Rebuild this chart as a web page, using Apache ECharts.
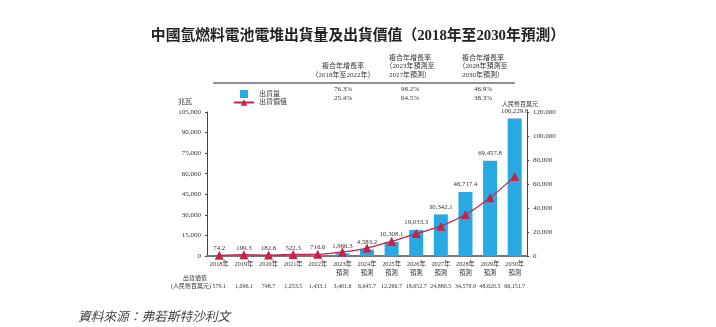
<!DOCTYPE html>
<html>
<head>
<meta charset="utf-8">
<script src="https://cdn.jsdelivr.net/npm/echarts@6/dist/echarts.min.js"></script>
<style>html,body{margin:0;padding:0;background:#fff;}#c{width:716px;height:327px;}</style>
</head>
<body>
<div id="c"></div>
<script>
const years = ['2018','2019','2020','2021','2022','2023','2024','2025','2026','2027','2028','2029','2030'];
const forecast = [false,false,false,false,false,true,true,true,true,true,true,true,true];
const shipmentMW = [74.2,199.3,182.6,522.3,716.6,1966.3,4583.2,10308.1,19033.3,30342.1,46717.4,69457.8,100229.8];
const shipmentValueRMBm = [579.1,1096.1,748.7,1253.5,1433.1,3401.6,6645.7,12266.7,18652.7,24880.5,34570.9,48620.5,66151.7];
const leftTicks = {min:0, max:105000, interval:15000};
const rightTicks = {min:0, max:120000, interval:20000};
const cagrHeaders = [['複合年增長率','（2018年至2022年）'],['複合年增長率','（2023年預測至','2027年預測）'],['複合年增長率','（2028年預測至','2030年預測）']];
const cagrShipment = ['76.3%','98.2%','46.9%'];
const cagrValue = ['25.4%','64.5%','38.3%'];
const seriesNames = ['出貨量','出貨價值'];

const SERIF = "'Liberation Serif','Noto Sans CJK TC',serif";
const fmt = v => v.toLocaleString('en-US',{minimumFractionDigits:1, maximumFractionDigits:1});
const fmt0 = v => v.toLocaleString('en-US');
const categories = years.map((y,i)=> forecast[i] ? y+'年\n預測' : y+'年');

const BLUE = '#29a9e1', RED = '#c8224a', TXT = '#333';

const colX = [343, 410, 483];
const graphics = [];
cagrHeaders.forEach((lines, c) => {
  const n = lines.length;
  lines.forEach((t, k) => {
    graphics.push({type:'text', x: colX[c], y: 75 - (n-1-k)*8.5,
      style:{text:t, fill:TXT, font:"7px "+SERIF, textAlign:'center', textVerticalAlign:'middle'}});
  });
  graphics.push({type:'text', x: colX[c], y: 89, style:{text:cagrShipment[c], fill:TXT, font:"7px "+SERIF, textAlign:'center', textVerticalAlign:'middle'}});
  graphics.push({type:'text', x: colX[c], y: 98, style:{text:cagrValue[c], fill:TXT, font:"7px "+SERIF, textAlign:'center', textVerticalAlign:'middle'}});
});
graphics.push({type:'line', shape:{x1:213,y1:83,x2:515,y2:83}, style:{stroke:'#222', lineWidth:1}});
graphics.push({type:'text', x:185, y:102, style:{text:'兆瓦', fill:TXT, font:"7px "+SERIF, textAlign:'center', textVerticalAlign:'middle'}});
graphics.push({type:'text', x:520, y:104, style:{text:'人民幣百萬元', fill:TXT, font:"6px "+SERIF, textAlign:'center', textVerticalAlign:'middle'}});
graphics.push({type:'text', x:195, y:278, style:{text:'出貨價值', fill:TXT, font:"6px "+SERIF, textAlign:'center', textVerticalAlign:'middle'}});
graphics.push({type:'text', x:191, y:286, style:{text:'(人民幣百萬元)', fill:TXT, font:"6px "+SERIF, textAlign:'center', textVerticalAlign:'middle'}});
graphics.push({type:'text', x:78, y:318, style:{text:'資料來源：弗若斯特沙利文', fill:'#444', font:"italic 12.7px "+SERIF, textAlign:'left', textVerticalAlign:'middle'}});

const chart = echarts.init(document.getElementById('c'), null, {renderer:'canvas'});
chart.setOption({
  animation:false,
  backgroundColor:'#fff',
  title:{text:'中國氫燃料電池電堆出貨量及出貨價值（2018年至2030年預測）', left:'center', top:24,
    textStyle:{fontSize:14.8, fontWeight:'bold', color:'#222', fontFamily:SERIF}},
  legend:{orient:'vertical', left:228, top:85, itemGap:1, itemWidth:20, itemHeight:8,
    textStyle:{fontSize:7, color:TXT, fontFamily:SERIF},
    data:[{name:seriesNames[0], icon:'path://M0,0H10V10H0Z'},{name:seriesNames[1]}]},
  grid:{left:207, right:189, top:112, bottom:71},
  xAxis:[{type:'category', data:categories, position:'bottom',
    axisLine:{lineStyle:{color:'#777', width:2}}, axisTick:{show:false},
    axisLabel:{fontSize:6.3, color:TXT, fontFamily:SERIF, interval:0, lineHeight:9, margin:4}},
   {type:'category', data:categories, position:'bottom', offset:27,
    axisLine:{show:false}, axisTick:{show:false},
    axisLabel:{fontSize:6, color:TXT, fontFamily:SERIF, interval:0, margin:0,
      formatter:(v, i)=>fmt(shipmentValueRMBm[i])}}],
  yAxis:[{type:'value', min:leftTicks.min, max:leftTicks.max, interval:leftTicks.interval, position:'left',
    axisLine:{show:true, lineStyle:{color:'#444', width:1}}, axisTick:{show:true, length:2, lineStyle:{color:'#444'}},
    splitLine:{show:false}, axisLabel:{fontSize:7, color:TXT, fontFamily:SERIF, formatter:v=>fmt0(v), margin:6}},
   {type:'value', min:rightTicks.min, max:rightTicks.max, interval:rightTicks.interval, position:'right',
    axisLine:{show:true, lineStyle:{color:'#444', width:1}}, axisTick:{show:true, length:2, lineStyle:{color:'#444'}},
    splitLine:{show:false}, axisLabel:{fontSize:7, color:TXT, fontFamily:SERIF, formatter:v=>fmt0(v), margin:6}}],
  series:[
    {name:seriesNames[0], type:'bar', data:shipmentMW, barWidth:14, xAxisIndex:0, yAxisIndex:0,
     itemStyle:{color:BLUE},
     label:{show:true, position:'top', distance:4, fontSize:6.8, color:TXT, fontFamily:SERIF, formatter:p=>fmt(p.value)}},
    {name:seriesNames[1], type:'line', data:shipmentValueRMBm, xAxisIndex:0, yAxisIndex:1,
     smooth:0.3, symbol:'triangle', symbolSize:9, lineStyle:{color:RED, width:1.3}, itemStyle:{color:RED}, z:5}
  ],
  graphic:graphics
});
</script>
</body>
</html>
